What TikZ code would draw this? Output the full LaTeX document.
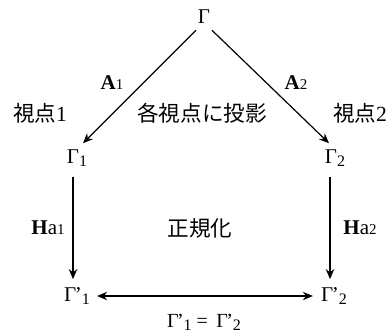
\documentclass[tikz,border=0pt]{standalone}
\usepackage{fontspec}
\setmainfont{Liberation Serif}
\newfontfamily\jpfont{Noto Sans CJK JP}
\usetikzlibrary{arrows.meta}
\newcommand{\mysub}[1]{\raisebox{-1.5pt}{\fontsize{8}{8}\selectfont #1}}
\newcommand{\myprime}{\kern-0.8pt’}
\newcommand{\smalldigit}[1]{{\fontsize{7.5}{8}\selectfont #1}}
\begin{document}
\begin{tikzpicture}[x=0.5pt,y=-0.5pt,
  gam/.style={inner sep=2pt,font=\fontsize{10.5}{12}\selectfont},
  jp/.style={inner sep=0pt,font=\jpfont\fontsize{10.8}{13}\selectfont},
  lbl/.style={inner sep=0pt,font=\fontsize{10.5}{12}\selectfont},
  arr/.style={line width=0.6pt,-{Stealth[length=5pt,width=4.2pt]}},
  darr/.style={line width=0.6pt,{Stealth[length=5pt,width=4.2pt]}-{Stealth[length=5pt,width=4.2pt]}}]
\useasboundingbox (0,0) rectangle (390,334);
\node[gam] (G) at (204,17) {Γ};
\node[gam] (G1) at (77,158) {Γ\mysub{1}};
\node[gam] (G2) at (335,158) {Γ\mysub{2}};
\node[gam] (G1p) at (77,296) {Γ\myprime\mysub{1}};
\node[gam] (G2p) at (334,296) {Γ\myprime\mysub{2}};
\draw[arr] ([xshift=-4pt,yshift=-1pt]G.south) -- ([xshift=3pt,yshift=1pt]G1.north);
\draw[arr] ([xshift=4pt,yshift=-1pt]G.south) -- ([xshift=-3pt,yshift=1pt]G2.north);
\draw[arr] ([xshift=-2pt,yshift=-3pt]G1.south) -- ([xshift=-2pt,yshift=2pt]G1p.north);
\draw[arr] ([xshift=-2.5pt,yshift=-3pt]G2.south) -- ([xshift=-2pt,yshift=2pt]G2p.north);
\draw[darr] ([xshift=1.5pt]G1p.east) -- ([xshift=-2pt]G2p.west);
\node[lbl] (A1) at (112,83) {\textbf{A}\smalldigit{1}};
\node[lbl] (A2) at (296,83) {\textbf{A}\smalldigit{2}};
\node[lbl] (H1) at (48,228) {\textbf{H}a\smalldigit{1}};
\node[lbl] (H2) at (360,228) {\textbf{H}a\smalldigit{2}};
\node[jp] (V1) at (40,113) {視点{\rmfamily 1}};
\node[jp] (V2) at (360,113) {視点{\rmfamily 2}};
\node[jp] (P) at (202,113) {各視点に投影};
\node[jp] (N) at (200,228) {正規化};
\node[gam,font=\fontsize{10}{12}\selectfont] (E) at (204,322) {Γ\myprime\mysub{1} = \,Γ\myprime\mysub{2}};
\end{tikzpicture}
\end{document}
